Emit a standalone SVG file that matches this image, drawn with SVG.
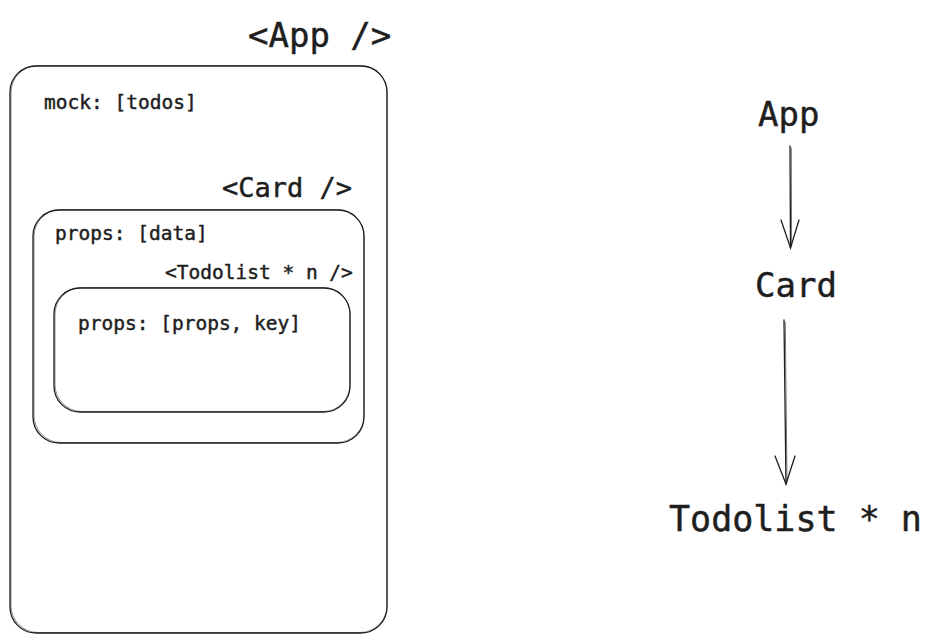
<svg xmlns="http://www.w3.org/2000/svg" width="931" height="642" viewBox="0 0 931 642">
<style>
text{font-family:"DejaVu Sans Mono","Liberation Mono",monospace;fill:#1e1e1e;stroke:#1e1e1e;stroke-width:0.45}
.box{fill:none;stroke:#1e1e1e;stroke-width:1.3}
.box2{fill:none;stroke:#1e1e1e;stroke-width:0.7;opacity:0.7}
.con{fill:none;stroke:#1e1e1e;stroke-width:1.3;stroke-linecap:round}
.con2{fill:none;stroke:#555;stroke-width:0.8;stroke-linecap:round}
</style>
<rect width="931" height="642" fill="#ffffff"/>
<g id="app">
<text x="248" y="47" font-size="34" stroke-width="0.8">&lt;App /&gt;</text>
<rect class="box" x="10" y="66" width="377" height="567" rx="26"/>
<rect class="box2" x="11" y="65.5" width="376" height="567" rx="27"/>
<text x="44" y="109" font-size="19.5">mock: [todos]</text>
</g>
<g id="card">
<text x="222" y="197" font-size="27" stroke-width="0.6">&lt;Card /&gt;</text>
<rect class="box" x="33" y="210" width="331" height="233" rx="26"/>
<rect class="box2" x="34" y="209.5" width="330" height="233" rx="27"/>
<text x="55" y="240" font-size="19.5">props: [data]</text>
</g>
<g id="todolist">
<text x="165" y="279" font-size="19.5">&lt;Todolist * n /&gt;</text>
<rect class="box" x="54" y="288" width="296" height="124" rx="26"/>
<rect class="box2" x="55" y="287.5" width="295" height="124" rx="27"/>
<text x="78" y="330" font-size="19.5">props: [props, key]</text>
</g>
<g id="n-app"><text x="758" y="126" font-size="34" stroke-width="0.8">App</text></g>
<g id="n-card"><text x="755" y="297" font-size="34" stroke-width="0.8">Card</text></g>
<g id="n-todolist"><text x="669" y="531" font-size="35" stroke-width="0.8">Todolist * n</text></g>
<g id="connectors">
<path class="con" d="M790 146 L790.5 248"/>
<path class="con2" d="M791.3 148 L791.6 246"/>
<path class="con" d="M781 220 L790.5 248 L799 220"/>
<path class="con" d="M784 320 L786 484"/>
<path class="con2" d="M785.3 322 L787 482"/>
<path class="con" d="M775 456 L786 484 L795 456"/>
</g>
</svg>
